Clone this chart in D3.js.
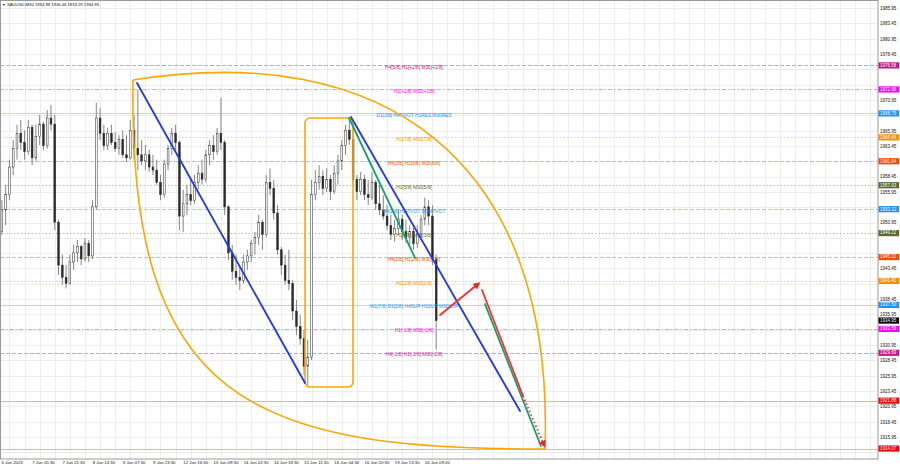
<!DOCTYPE html>
<html><head><meta charset="utf-8">
<script src="https://cdn.jsdelivr.net/npm/d3@7"></script>
<style>
html,body{margin:0;padding:0;background:#fff;}
svg{display:block;}
text{font-family:"Liberation Sans",Arial,sans-serif;}
</style></head><body>
<svg id="chart" width="900" height="468"></svg>
<script>
// ---------------- data ----------------
const symbolTitle = "XAUUSD,M30";
const lastBarOHLC = ["1934.98", "1936.46", "1933.29", "1934.95"];

const timeLabels = ["6 Jun 2023", "7 Jun 05:30", "7 Jun 21:30", "8 Jun 14:30", "9 Jun 07:30", "9 Jun 23:30",
  "12 Jun 16:30", "13 Jun 09:30", "14 Jun 02:30", "14 Jun 18:30", "15 Jun 11:30", "16 Jun 04:30",
  "16 Jun 20:30", "19 Jun 13:30", "20 Jun 09:00"];
const timeLabelBars = [0, 32, 64, 96, 128, 160, 192, 224, 256, 288, 320, 352, 384, 416, 448];

const priceTicks = [1985.95, 1983.45, 1980.95, 1978.45, 1975.95, 1973.45, 1970.95, 1968.45, 1965.95, 1963.45,
  1960.95, 1958.45, 1955.95, 1953.45, 1950.95, 1948.45, 1945.95, 1943.45, 1940.95, 1938.45, 1935.95, 1933.45,
  1930.95, 1928.45, 1925.95, 1923.45, 1920.95, 1918.45, 1915.95, 1913.45];

const levelPrices = [1976.58, 1972.66, 1968.75, 1964.84, 1960.94, 1957.03, 1953.12, 1949.22, 1945.31, 1941.41,
  1937.50, 1934.95, 1933.59, 1929.69, 1921.88, 1914.07];
const levelColors = ["#c71585", "#ff00ff", "#1e90ff", "#ff8c00", "#ff4500", "#556b2f", "#1e90ff", "#556b2f",
  "#ff4500", "#ff8c00", "#1e90ff", "#000000", "#ff00ff", "#c71585", "#ff0000", "#ff0000"];
const levelStyles = ["dash", "dashdot", "solid", "dot", "dash", "dot", "dash", "dot", "dash", "dot",
  "solid", "none", "dashdot", "dash", "solid", "solid"];
const levelNames = ["H4[5/8] H1[+2/8] M30[+2/8]", "H1[+1/8] M30[+1/8]", "D1[3/8] H4PIVOT H1RES M30RES",
  "H1[7/8] M30[7/8]", "H4[3/8] H1[6/8] M30[6/8]", "H1[5/8] M30[5/8]", "H4[2/8] H1PIVOT M30PIVOT",
  "H1[3/8] M30[3/8]", "H4[1/8] H1[2/8] M30[2/8]", "H1[1/8] M30[1/8]", "W1[7/8] D1[2/8] H4SUP H1SUP M30SUP",
  "", "H1[-1/8] M30[-1/8]", "H4[-1/8] H1[-2/8] M30[-2/8]", "", ""];

// candles (each one groups 4 M30 bars)
const candleOpen = [1949.5,1953.0,1955.5,1960.0,1963.0,1965.5,1964.0,1962.5,1966.5,1961.5,1965.0,1967.0,1963.5,1968.0,1967.0,1951.0,1944.0,1942.0,1941.0,1944.5,1946.0,1947.0,1945.0,1947.5,1945.5,1953.5,1968.0,1965.5,1963.5,1965.5,1964.0,1963.0,1964.5,1962.0,1961.5,1966.0,1963.0,1962.0,1961.0,1962.0,1960.0,1959.5,1957.5,1955.5,1960.5,1963.0,1965.5,1964.0,1952.0,1954.0,1955.5,1954.5,1957.5,1959.0,1958.0,1962.0,1963.5,1962.5,1965.5,1964.0,1953.5,1946.0,1943.0,1942.0,1941.5,1944.5,1945.5,1947.5,1948.5,1951.0,1949.0,1957.5,1956.5,1952.5,1946.5,1944.0,1941.5,1941.0,1936.5,1934.0,1932.0,1927.5,1929.0,1955.5,1957.5,1958.5,1956.5,1958.0,1956.0,1959.0,1961.0,1963.5,1966.0,1964.5,1958.0,1956.0,1958.0,1955.5,1955.0,1957.5,1954.0,1953.0,1952.0,1950.5,1949.0,1950.0,1951.5,1949.5,1948.5,1949.5,1947.5,1949.0,1951.5,1953.5,1952.0,1945.0];
const candleHigh = [1954.6,1957.1,1961.2,1964.4,1966.9,1967.7,1966.0,1967.7,1966.9,1966.9,1968.5,1967.4,1969.3,1970.1,1968.5,1951.4,1945.7,1944.0,1945.7,1947.3,1948.1,1947.3,1948.4,1948.1,1954.6,1970.5,1969.6,1966.9,1966.4,1966.9,1965.7,1965.2,1966.0,1965.2,1967.7,1968.5,1972.6,1964.4,1963.6,1962.8,1962.0,1961.2,1958.7,1961.2,1963.6,1966.4,1966.9,1964.4,1956.3,1957.1,1957.9,1958.7,1960.3,1961.2,1962.8,1964.4,1965.2,1966.4,1971.3,1964.4,1953.8,1947.3,1945.7,1944.0,1945.7,1946.5,1948.1,1949.4,1952.2,1951.4,1958.7,1959.8,1957.9,1953.8,1946.9,1945.7,1946.5,1941.6,1938.3,1935.9,1933.4,1931.8,1957.9,1959.5,1960.3,1959.5,1959.8,1958.7,1960.3,1962.0,1964.4,1966.9,1968.0,1966.0,1958.7,1959.2,1958.7,1957.9,1959.2,1957.9,1957.1,1955.4,1953.8,1952.2,1951.4,1953.0,1952.2,1951.4,1950.5,1950.1,1950.5,1952.2,1955.0,1954.6,1953.8,1945.7];
const candleLow = [1948.9,1950.5,1954.6,1958.7,1961.2,1962.8,1961.2,1962.0,1960.3,1961.0,1963.6,1962.8,1963.0,1966.0,1949.7,1942.4,1940.8,1940.2,1940.8,1943.2,1944.5,1944.0,1944.6,1944.5,1945.0,1953.0,1964.4,1962.8,1962.8,1963.6,1962.5,1962.0,1961.5,1960.8,1961.2,1961.2,1959.5,1960.3,1959.5,1959.2,1958.7,1957.1,1954.6,1955.0,1959.5,1962.0,1962.8,1949.7,1949.4,1952.2,1953.8,1954.0,1956.3,1957.1,1957.5,1960.3,1961.2,1962.0,1962.8,1952.2,1944.8,1941.6,1940.8,1939.9,1941.0,1943.2,1944.5,1945.7,1947.3,1946.5,1948.5,1955.4,1951.4,1945.7,1942.4,1940.8,1939.9,1935.0,1932.6,1931.0,1926.1,1924.4,1928.5,1954.6,1956.3,1955.4,1955.9,1954.6,1955.6,1957.1,1959.5,1962.0,1963.6,1957.1,1954.6,1955.4,1954.6,1953.8,1954.6,1953.0,1952.2,1951.4,1949.7,1948.1,1947.8,1948.9,1948.1,1947.6,1947.3,1946.5,1946.8,1948.1,1950.5,1950.5,1944.0,1930.2];
const candleClose = [1953.0,1955.5,1960.0,1963.0,1965.5,1964.0,1962.5,1966.5,1961.5,1965.0,1967.0,1963.5,1968.0,1967.0,1951.0,1944.0,1942.0,1941.0,1944.5,1946.0,1947.0,1945.0,1947.5,1945.5,1953.5,1968.0,1965.5,1963.5,1965.5,1964.0,1963.0,1964.5,1962.0,1961.5,1966.0,1963.0,1962.0,1961.0,1962.0,1960.0,1959.5,1957.5,1955.5,1960.5,1963.0,1965.5,1964.0,1952.0,1954.0,1955.5,1954.5,1957.5,1959.0,1958.0,1962.0,1963.5,1962.5,1965.5,1964.0,1953.5,1946.0,1943.0,1942.0,1941.5,1944.5,1945.5,1947.5,1948.5,1951.0,1949.0,1957.5,1956.5,1952.5,1946.5,1944.0,1941.5,1941.0,1936.5,1934.0,1932.0,1927.5,1929.0,1955.5,1957.5,1958.5,1956.5,1958.0,1956.0,1959.0,1961.0,1963.5,1966.0,1964.5,1958.0,1956.0,1958.0,1955.5,1955.0,1957.5,1954.0,1953.0,1952.0,1950.5,1949.0,1950.0,1951.5,1949.5,1948.5,1949.5,1947.5,1949.0,1951.5,1953.5,1952.0,1945.0,1934.95];
const barsPerCandle = 4;

// drawn objects: [bar index, price]
const arcStart = [140.9, 1974.2], arcEnd = [577.3, 1914.0];
const arcUpperCtrl = [[402.5, 1980.7], [587.9, 1961.96]];
const arcLowerCtrl = [[135.6, 1922.0], [264.8, 1913.83]];
const boxCorners = [[323.1, 1968.0], [373.9, 1924.1]];
const blueLines = [[[145.1, 1973.71], [323.1, 1924.76]], [[371.8, 1968.17], [550.8, 1920.19]]];
const greenLines = [[[369.7, 1968.0], [439.6, 1945.16]], [[513.7, 1937.65], [573.0, 1914.48]]];
const redArrowUp = [[466.1, 1935.86], [506.3, 1940.92]];
const redLineSolid = [[510.5, 1939.94], [554.0, 1922.64]];
const redLineDotted = [[554.0, 1922.64], [576.2, 1914.64]];
const labelBar = 438.5;

// ---------------- drawing ----------------
const svg = d3.select("#chart");
const plotRight = 878, plotBottom = 459;
const x = d3.scaleLinear().domain([0, 930]).range([0, plotRight]);
const y = d3.scaleLinear().domain([1985.95, 1915.95]).range([8, 437]);
const P = d => [x(d[0]), y(d[1])];
const tint = (c, t) => d3.interpolateRgb(c, "#ffffff")(t);

const defs = svg.append("defs");
defs.append("clipPath").attr("id", "clip").append("rect")
  .attr("x", 0).attr("y", 0).attr("width", plotRight).attr("height", plotBottom);
defs.append("marker").attr("id", "arrowRed").attr("viewBox", "0 0 10 10")
  .attr("refX", 6).attr("refY", 5).attr("markerWidth", 4).attr("markerHeight", 4)
  .attr("orient", "auto").attr("markerUnits", "strokeWidth")
  .append("path").attr("d", "M0,0 L10,5 L0,10 z").attr("fill", "#ff2020");

const plot = svg.append("g").attr("clip-path", "url(#clip)");

// grid
const gridBars = d3.range(10, 930, 16);
plot.append("g").selectAll("line").data(gridBars).join("line")
  .attr("x1", d => Math.round(x(d)) + 0.5).attr("x2", d => Math.round(x(d)) + 0.5)
  .attr("y1", 0).attr("y2", plotBottom).attr("stroke", "#ededed").attr("stroke-width", 1);
plot.append("g").selectAll("line").data(priceTicks).join("line")
  .attr("x1", 0).attr("x2", plotRight)
  .attr("y1", d => Math.round(y(d)) + 0.5).attr("y2", d => Math.round(y(d)) + 0.5)
  .attr("stroke", "#ededed").attr("stroke-width", 1);

// level lines
const dashMap = { dash: "4,2", dot: "1.5,2", dashdot: "4,2,1.5,2", solid: null };
const levels = levelPrices.map((p, i) => ({ p, c: levelColors[i], s: levelStyles[i], n: levelNames[i] }));
plot.append("g").selectAll("line").data(levels.filter(d => d.s !== "none")).join("line")
  .attr("x1", 0).attr("x2", plotRight)
  .attr("y1", d => Math.round(y(d.p)) + 0.5).attr("y2", d => Math.round(y(d.p)) + 0.5)
  .attr("stroke", d => tint(d.c, d.s === "solid" ? 0.65 : 0.55))
  .attr("stroke-width", 1).attr("stroke-dasharray", d => dashMap[d.s]);

// candles
const candles = candleOpen.map((o, i) => ({
  i, o, h: candleHigh[i], l: candleLow[i], c: candleClose[i]
}));
const cx = d => x(d.i * barsPerCandle + barsPerCandle / 2);
const cg = plot.append("g");
cg.selectAll("line").data(candles).join("line")
  .attr("x1", cx).attr("x2", cx).attr("y1", d => y(d.h)).attr("y2", d => y(d.l))
  .attr("stroke", "#777").attr("stroke-width", 0.9);
cg.selectAll("rect").data(candles).join("rect")
  .attr("x", d => cx(d) - 0.9).attr("width", 1.8)
  .attr("y", d => y(Math.max(d.o, d.c)))
  .attr("height", d => Math.max(0.6, Math.abs(y(d.o) - y(d.c))))
  .attr("fill", d => d.c > d.o ? "#ffffff" : "#2a2a2a")
  .attr("stroke", "#2a2a2a").attr("stroke-width", 0.5);

// level texts
plot.append("g").selectAll("text").data(levels.filter(d => d.n)).join("text")
  .attr("x", x(labelBar)).attr("y", d => y(d.p) + 2.3)
  .attr("text-anchor", "middle").attr("dominant-baseline", "middle")
  .attr("font-size", 4.8).attr("fill", d => d.c).text(d => d.n);

// orange shapes
const orange = "#ffa500";
const upper = d3.path();
upper.moveTo(...P(arcStart));
upper.bezierCurveTo(...P(arcUpperCtrl[0]), ...P(arcUpperCtrl[1]), ...P(arcEnd));
plot.append("path").attr("d", upper.toString()).attr("fill", "none").attr("stroke", orange).attr("stroke-width", 1.6);
const lower = d3.path();
lower.moveTo(...P(arcStart));
lower.bezierCurveTo(...P(arcLowerCtrl[0]), ...P(arcLowerCtrl[1]), ...P(arcEnd));
plot.append("path").attr("d", lower.toString()).attr("fill", "none").attr("stroke", orange).attr("stroke-width", 1.6);

const b0 = P(boxCorners[0]), b1 = P(boxCorners[1]);
plot.append("rect").attr("x", b0[0]).attr("y", b0[1]).attr("width", b1[0] - b0[0]).attr("height", b1[1] - b0[1])
  .attr("rx", 5).attr("ry", 5).attr("fill", "none").attr("stroke", orange).attr("stroke-width", 1.6);

// trend lines
const seg = (g, d, color, w) => g.append("line")
  .attr("x1", x(d[0][0])).attr("y1", y(d[0][1])).attr("x2", x(d[1][0])).attr("y2", y(d[1][1]))
  .attr("stroke", color).attr("stroke-width", w).attr("stroke-linecap", "round");
blueLines.forEach(d => seg(plot, d, "#2036f5", 1.8));
greenLines.forEach(d => seg(plot, d, "#12a070", 1.8));
seg(plot, redLineSolid, "#ff2a2a", 1.8);
seg(plot, redLineDotted, "#ff2a2a", 1.8).attr("stroke-dasharray", "1.5,2.5").attr("stroke-linecap", "butt")
  .attr("marker-end", "url(#arrowRed)");
seg(plot, redArrowUp, "#ff2a2a", 1.8).attr("marker-end", "url(#arrowRed)");

// frame
svg.append("rect").attr("x", 0.5).attr("y", 0.5).attr("width", plotRight - 0.5).attr("height", plotBottom - 0.5)
  .attr("fill", "none").attr("stroke", "#9a9a9a").attr("stroke-width", 1);

// price axis (tick labels hidden under a level box are left out, as in the reference)
const visibleTicks = priceTicks.filter(t => levelPrices.every(p => Math.abs(y(p) - y(t)) > 5.2));
const yAxis = d3.axisRight(y).tickValues(visibleTicks).tickFormat(d3.format(".2f")).tickSize(0).tickPadding(2);
const ya = svg.append("g").attr("transform", `translate(${plotRight},0)`).call(yAxis);
ya.select(".domain").remove();
ya.selectAll("text").attr("font-size", 4.5).attr("fill", "#111").attr("font-family", "Liberation Sans, Arial, sans-serif");

// price boxes
const boxG = svg.append("g");
boxG.selectAll("rect").data(levels).join("rect")
  .attr("x", plotRight + 0.5).attr("width", 20.5).attr("y", d => y(d.p) - 3.1).attr("height", 6.2)
  .attr("fill", d => d.c);
boxG.selectAll("text").data(levels).join("text")
  .attr("x", plotRight + 2).attr("y", d => y(d.p) + 0.2).attr("dominant-baseline", "middle")
  .attr("font-size", 4.5).attr("fill", "#fff").text(d => d.p.toFixed(2));

// time axis
const xAxis = d3.axisBottom(x).tickValues(timeLabelBars).tickFormat((d, i) => timeLabels[i]).tickSize(0).tickPadding(2);
const xa = svg.append("g").attr("transform", `translate(0,${plotBottom})`).call(xAxis);
xa.select(".domain").remove();
xa.selectAll("text").attr("text-anchor", "start").attr("dx", (d, i) => i === 0 ? 1 : 1.5)
  .attr("font-size", 4.3).attr("fill", "#111").attr("font-family", "Liberation Sans, Arial, sans-serif");

// header
svg.append("text").attr("x", 2).attr("y", 5.2).attr("dominant-baseline", "middle")
  .attr("font-size", 3.6).attr("font-family", "DejaVu Sans").attr("fill", "#111").text("▼");
svg.append("text").attr("x", 7).attr("y", 5.2).attr("dominant-baseline", "middle")
  .attr("font-size", 4.2).attr("fill", "#111")
  .text(symbolTitle + "  " + lastBarOHLC.join(" "));
</script>
</body></html>
